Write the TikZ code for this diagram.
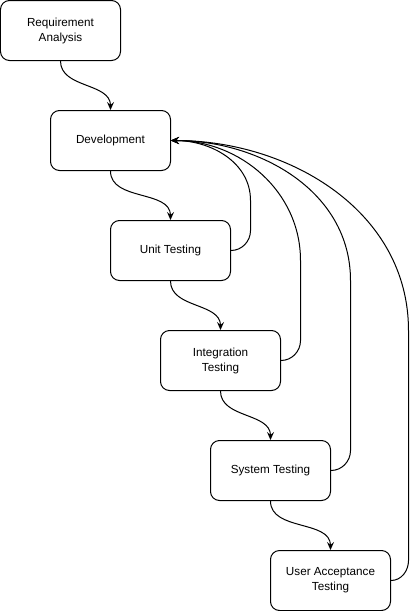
\documentclass[tikz,border=0pt]{standalone}
\usepackage{fontspec}
\setmainfont{Liberation Sans}
\usepackage{tikz}
\usetikzlibrary{shapes,arrows,arrows.meta}

\begin{document}
\begin{tikzpicture}[x=1pt,y=-1pt,line width=1pt,>={Stealth[length=8pt,width=7pt,inset=3pt]},
    stage/.style={draw,rounded corners=9pt,minimum width=120pt,minimum height=60pt,
        inner sep=0pt,align=center,font=\fontsize{11.7}{15}\selectfont}]
\useasboundingbox (-0.5,-0.5) rectangle (410.5,610.5);
\draw
    node at(60,30)[stage,name=req]{Requirement\\Analysis}
    node at(110,140)[stage,name=dev]{Development}
    node at(170,250)[stage,name=unit]{Unit Testing}
    node at(220,360)[stage,name=integ]{Integration\\Testing}
    node at(270,470)[stage,name=sys]{System Testing}
    node at(330,580)[stage,name=uat]{User Acceptance\\Testing}
;

    % forward flow
    \draw[->](req.south) to[out=-90,in=90] (dev.north);
    \draw[->](dev.south) to[out=-90,in=90] (unit.north);
    \draw[->](unit.south) to[out=-90,in=90] (integ.north);
    \draw[->](integ.south) to[out=-90,in=90] (sys.north);
    \draw[->](sys.south) to[out=-90,in=90] (uat.north);

    % back to development
    \draw[->](unit.east) to[out=0,in=-90] (250,230) -- (250,200) to[out=90,in=0] (dev.east);
    \draw[->](integ.east) to[out=0,in=-90] (300,340) -- (300,260) to[out=90,in=0] (dev.east);
    \draw[->](sys.east) to[out=0,in=-90] (350,450) -- (350,280) to[out=90,in=0] (dev.east);
    \draw[->](uat.east) to[out=0,in=-90] (408,560) -- (408,330) to[out=90,in=0] (dev.east);
\end{tikzpicture}
\end{document}
